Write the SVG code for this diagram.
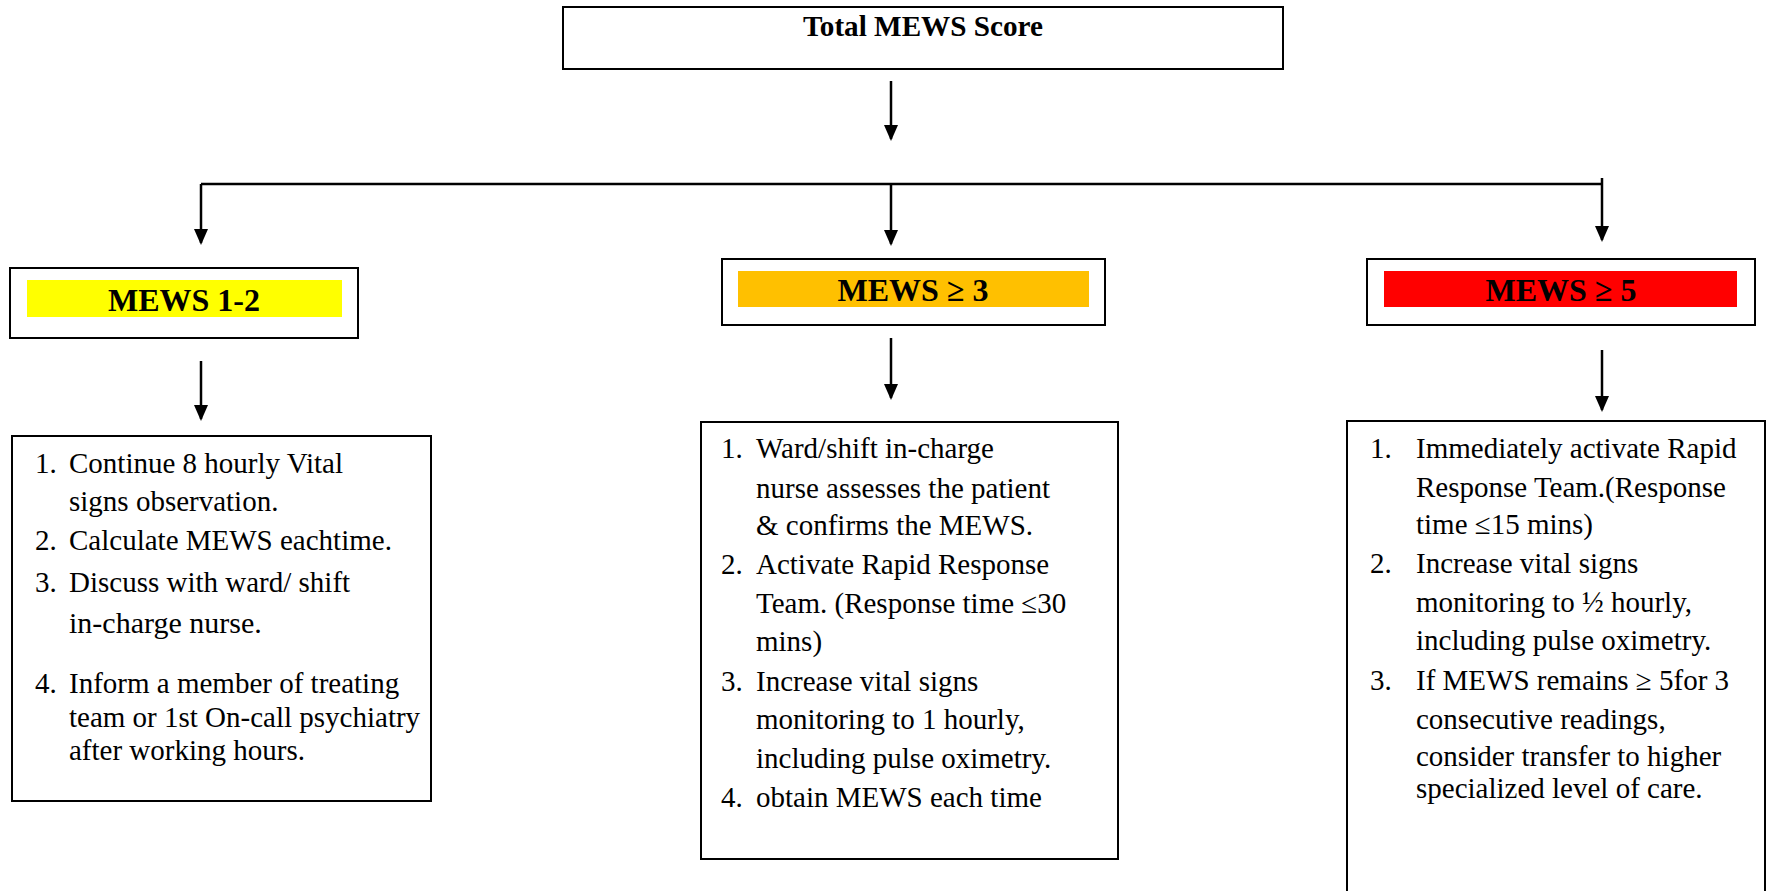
<svg xmlns="http://www.w3.org/2000/svg" width="1769" height="891" viewBox="0 0 1769 891">
<style>
.box{fill:#fff;stroke:#000;stroke-width:2}
.lbl{font-family:"Liberation Serif","Times New Roman",serif;font-weight:bold;font-size:32px;text-anchor:middle;fill:#000}
.t{font-family:"Liberation Serif","Times New Roman",serif;font-size:29px;fill:#000}
.conn{fill:none;stroke:#000;stroke-width:2.5}
</style>
<defs>
<marker id="ah" markerWidth="16" markerHeight="14" refX="14" refY="7" orient="auto" markerUnits="userSpaceOnUse">
<path d="M0,0 L16,7 L0,14 Z" fill="#000"/>
</marker>
</defs>
<g id="connectors">
<path class="conn" d="M891,81 V139" marker-end="url(#ah)"/>
<path class="conn" d="M201,184 H1602"/>
<path class="conn" d="M201,184 V243" marker-end="url(#ah)"/>
<path class="conn" d="M891,184 V244" marker-end="url(#ah)"/>
<path class="conn" d="M1602,178 V240" marker-end="url(#ah)"/>
<path class="conn" d="M201,361 V419" marker-end="url(#ah)"/>
<path class="conn" d="M891,338 V398" marker-end="url(#ah)"/>
<path class="conn" d="M1602,350 V410" marker-end="url(#ah)"/>
</g>
<g id="total">
<rect class="box" x="563" y="7" width="720" height="62"/>
<text class="lbl" x="923" y="36" font-size="30" textLength="240" lengthAdjust="spacingAndGlyphs" style="font-size:30px">Total MEWS Score</text>
</g>
<g id="mews12">
<rect class="box" x="10" y="268" width="348" height="70"/>
<rect x="27" y="280" width="315" height="37" fill="#FFFF00"/>
<text class="lbl" x="184" y="311">MEWS 1-2</text>
</g>
<g id="mews3">
<rect class="box" x="722" y="259" width="383" height="66"/>
<rect x="738" y="271" width="351" height="36" fill="#FFC000"/>
<text class="lbl" x="913" y="301">MEWS ≥ 3</text>
</g>
<g id="mews5">
<rect class="box" x="1367" y="259" width="388" height="66"/>
<rect x="1384" y="271" width="353" height="36" fill="#FF0000"/>
<text class="lbl" x="1561" y="301">MEWS ≥ 5</text>
</g>
<g id="actions12">
<rect class="box" x="12" y="436" width="419" height="365"/>
<text class="t" x="35" y="473">1.</text><text class="t" x="69" y="473">Continue 8 hourly Vital</text>
<text class="t" x="69" y="511">signs observation.</text>
<text class="t" x="35" y="550">2.</text><text class="t" x="69" y="550">Calculate MEWS eachtime.</text>
<text class="t" x="35" y="592">3.</text><text class="t" x="69" y="592">Discuss with ward/ shift</text>
<text class="t" x="69" y="633" style="font-size:30px">in-charge nurse.</text>
<text class="t" x="35" y="693">4.</text><text class="t" x="69" y="693">Inform a member of treating</text>
<text class="t" x="69" y="727">team or 1st On-call psychiatry</text>
<text class="t" x="69" y="760">after working hours.</text>
</g>
<g id="actions3">
<rect class="box" x="701" y="422" width="417" height="437"/>
<text class="t" x="721" y="458">1.</text><text class="t" x="756" y="458">Ward/shift in-charge</text>
<text class="t" x="756" y="498">nurse assesses the patient</text>
<text class="t" x="756" y="535">&amp; confirms the MEWS.</text>
<text class="t" x="721" y="574">2.</text><text class="t" x="756" y="574">Activate Rapid Response</text>
<text class="t" x="756" y="613">Team. (Response time ≤30</text>
<text class="t" x="756" y="651">mins)</text>
<text class="t" x="721" y="691">3.</text><text class="t" x="756" y="691">Increase vital signs</text>
<text class="t" x="756" y="729">monitoring to 1 hourly,</text>
<text class="t" x="756" y="768">including pulse oximetry.</text>
<text class="t" x="721" y="807">4.</text><text class="t" x="756" y="807">obtain MEWS each time</text>
</g>
<g id="actions5">
<rect class="box" x="1347" y="421" width="418" height="480"/>
<text class="t" x="1370" y="458">1.</text><text class="t" x="1416" y="458">Immediately activate Rapid</text>
<text class="t" x="1416" y="497">Response Team.(Response</text>
<text class="t" x="1416" y="534">time ≤15 mins)</text>
<text class="t" x="1370" y="573">2.</text><text class="t" x="1416" y="573">Increase vital signs</text>
<text class="t" x="1416" y="612">monitoring to ½ hourly,</text>
<text class="t" x="1416" y="650">including pulse oximetry.</text>
<text class="t" x="1370" y="690">3.</text><text class="t" x="1416" y="690">If MEWS remains ≥ 5for 3</text>
<text class="t" x="1416" y="729">consecutive readings,</text>
<text class="t" x="1416" y="766">consider transfer to higher</text>
<text class="t" x="1416" y="798">specialized level of care.</text>
</g>
</svg>
